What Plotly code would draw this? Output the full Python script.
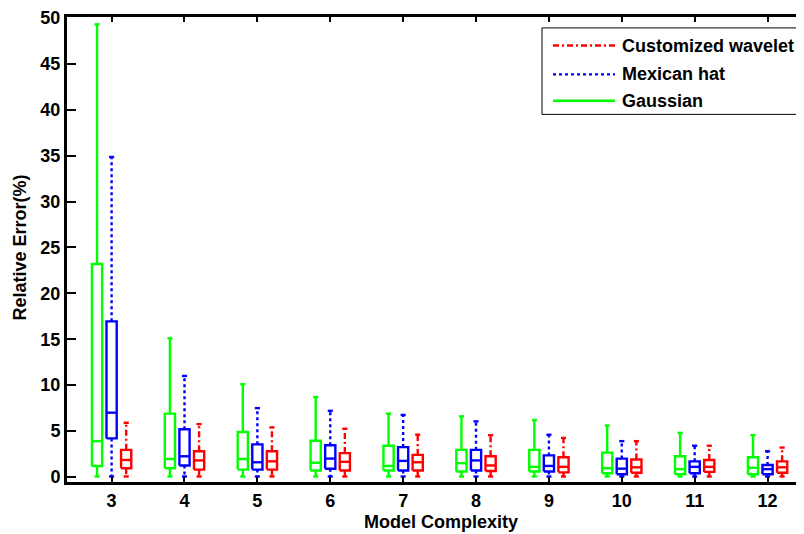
import plotly.graph_objects as go

# ---------------- data ----------------
categories = [3, 4, 5, 6, 7, 8, 9, 10, 11, 12]

gauss_upper = [49.3, 15.1, 10.1, 8.7, 6.9, 6.6, 6.2, 5.6, 4.8, 4.55]
gauss_q3    = [23.2, 6.9, 4.9, 3.95, 3.4, 2.95, 2.95, 2.65, 2.25, 2.15]
gauss_med   = [3.9, 1.95, 1.95, 1.55, 1.2, 1.5, 1.1, 0.95, 0.85, 1.0]
gauss_q1    = [1.2, 0.95, 0.8, 0.7, 0.7, 0.6, 0.6, 0.4, 0.3, 0.3]
gauss_lower = [0.05, 0.05, 0.05, 0.05, 0.05, 0.05, 0.05, 0.05, 0.05, 0.05]

mex_upper = [34.85, 11.0, 7.5, 7.2, 6.75, 6.05, 4.6, 3.9, 3.4, 2.8]
mex_q3    = [16.95, 5.2, 3.55, 3.45, 3.25, 2.95, 2.35, 2.0, 1.7, 1.3]
mex_med   = [7.0, 2.25, 1.6, 2.0, 1.75, 1.8, 1.2, 0.9, 1.1, 0.85]
mex_q1    = [4.2, 1.25, 0.8, 0.9, 0.7, 0.7, 0.6, 0.3, 0.4, 0.3]
mex_lower = [0.05, 0.05, 0.05, 0.05, 0.05, 0.05, 0.05, 0.05, 0.05, 0.05]

cust_upper = [5.9, 5.75, 5.4, 5.25, 4.6, 4.55, 4.25, 3.9, 3.4, 3.2]
cust_q3    = [2.95, 2.8, 2.8, 2.6, 2.4, 2.25, 2.15, 1.9, 1.85, 1.7]
cust_med   = [1.85, 1.8, 1.7, 1.65, 1.6, 1.25, 1.1, 1.05, 1.1, 1.05]
cust_q1    = [0.95, 0.8, 0.8, 0.7, 0.7, 0.65, 0.5, 0.45, 0.55, 0.45]
cust_lower = [0.05, 0.05, 0.05, 0.05, 0.05, 0.05, 0.05, 0.05, 0.05, 0.05]

y_ticks = [0, 5, 10, 15, 20, 25, 30, 35, 40, 45, 50]

# ---------------- style ----------------
FONT = "Liberation Sans, Arial, sans-serif"
FS = 18
LW = 2.4
BOX_HW = 0.07     # half width of box (axis units)
CAP_HW = 0.035    # half width of whisker caps
DASHDOT = "6px,3px,2px,3px"
series = [
    ("Gaussian", "#00ff00", "solid", -0.2, gauss_lower, gauss_q1, gauss_med, gauss_q3, gauss_upper),
    ("Mexican hat", "#0000ff", "dot", 0.0, mex_lower, mex_q1, mex_med, mex_q3, mex_upper),
    ("Customized wavelet", "#ff0000", DASHDOT, 0.2, cust_lower, cust_q1, cust_med, cust_q3, cust_upper),
]

fig = go.Figure()
for name, color, dash, off, lo, q1, med, q3, up in series:
    bx, by, mx, my, wx, wy, cx, cy = [], [], [], [], [], [], [], []
    for i, c in enumerate(categories):
        x = c + off
        bx += [x - BOX_HW, x + BOX_HW, x + BOX_HW, x - BOX_HW, x - BOX_HW, None]
        by += [q1[i], q1[i], q3[i], q3[i], q1[i], None]
        mx += [x - BOX_HW, x + BOX_HW, None]
        my += [med[i], med[i], None]
        wx += [x, x, None, x, x, None]
        wy += [q3[i], up[i], None, q1[i], lo[i], None]
        cx += [x - CAP_HW, x + CAP_HW, None, x - CAP_HW, x + CAP_HW, None]
        cy += [up[i], up[i], None, lo[i], lo[i], None]
    fig.add_trace(go.Scatter(x=wx, y=wy, mode="lines", showlegend=False, hoverinfo="skip",
                             line=dict(color=color, width=LW, dash=dash)))
    fig.add_trace(go.Scatter(x=cx, y=cy, mode="lines", showlegend=False, hoverinfo="skip",
                             line=dict(color=color, width=LW)))
    fig.add_trace(go.Scatter(x=bx, y=by, mode="lines", showlegend=False, name=name,
                             line=dict(color=color, width=LW)))
    fig.add_trace(go.Scatter(x=mx, y=my, mode="lines", showlegend=False, hoverinfo="skip",
                             line=dict(color=color, width=LW)))

# ---------------- layout (page pixel coords; page body has an 8px margin) ----------------
OFF = 8
W, H = 804 - OFF, 534 - OFF
L, T, R, B = 67, 14, 804, 482          # plot area in page pixels
pw, ph = R - L, B - T

def px(xp):
    return (xp - L) / pw

def py(yp):
    return (B - yp) / ph

shapes = []
annotations = []
shapes.append(dict(type="rect", xref="paper", yref="paper", x0=px(542), x1=px(802), y0=py(112), y1=py(25),
                   line=dict(color="black", width=1), fillcolor="white", layer="above"))
legend_rows = [("Customized wavelet", "#ff0000", DASHDOT, 42.7),
               ("Mexican hat", "#0000ff", "dot", 71.7),
               ("Gaussian", "#00ff00", "solid", 98.3)]
for text, color, dash, yr in legend_rows:
    shapes.append(dict(type="line", xref="paper", yref="paper", x0=px(553), x1=px(615), y0=py(yr), y1=py(yr),
                       line=dict(color=color, width=LW, dash=dash), layer="above"))
    annotations.append(dict(xref="paper", yref="paper", x=px(620), y=py(yr), text="<b>%s</b>" % text,
                            showarrow=False, xanchor="left", yanchor="middle",
                            font=dict(family=FONT, size=FS, color="black")))

annotations.append(dict(xref="paper", yref="paper", x=px(441), y=py(522), text="<b>Model Complexity</b>",
                        showarrow=False, xanchor="center", yanchor="middle",
                        font=dict(family=FONT, size=FS, color="black")))
annotations.append(dict(xref="paper", yref="paper", x=px(20), y=py(246), text="<b>Relative Error(%)</b>",
                        showarrow=False, xanchor="center", yanchor="middle", textangle=-90,
                        font=dict(family=FONT, size=FS, color="black")))

fig.update_layout(
    width=W, height=H,
    margin=dict(l=L - OFF, r=804 - R, t=T - OFF, b=534 - B),
    plot_bgcolor="white", paper_bgcolor="white",
    showlegend=False,
    shapes=shapes, annotations=annotations,
    font=dict(family=FONT, size=FS, color="black"),
    xaxis=dict(range=[2.388, 12.5], tickmode="array", tickvals=categories,
               ticktext=["<b>%d</b>" % c for c in categories],
               ticks="inside", ticklen=5, tickwidth=2, tickcolor="black",
               showline=True, linecolor="black", linewidth=3, mirror="ticks",
               showgrid=False, zeroline=False, ticklabelstandoff=0,
               ticklabeloverflow="allow",
               tickfont=dict(family=FONT, size=FS, color="black")),
    yaxis=dict(range=[-0.55, 50.1], tickmode="array", tickvals=y_ticks,
               ticktext=["<b>%d</b>" % v for v in y_ticks],
               ticks="inside", ticklen=9, tickwidth=2, tickcolor="black",
               showline=True, linecolor="black", linewidth=3, mirror=False,
               showgrid=False, zeroline=False, ticklabeloverflow="allow",
               tickfont=dict(family=FONT, size=FS, color="black")),
)

fig.write_html("out.html")
